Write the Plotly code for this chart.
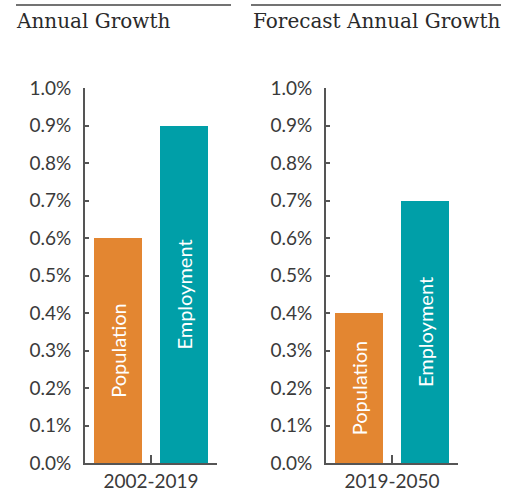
import plotly.graph_objects as go

periods = ["2002-2019", "2019-2050"]
titles = ["Annual Growth", "Forecast Annual Growth"]
series = ["Population", "Employment"]
population = [0.6, 0.4]
employment = [0.9, 0.7]
y_ticks = [0.0, 0.1, 0.2, 0.3, 0.4, 0.5, 0.6, 0.7, 0.8, 0.9, 1.0]
colors = {"Population": "#E38631", "Employment": "#009FA8"}

W, H = 511, 495
fig = go.Figure()

values = {"Population": population, "Employment": employment}
for i, period in enumerate(periods):
    ax = "" if i == 0 else str(i + 1)
    for j, s in enumerate(series):
        fig.add_trace(go.Bar(
            x=[j], y=[values[s][i]], name=s, text=[s],
            textposition="inside", insidetextanchor="middle", textangle=-90,
            textfont=dict(family="Lato", size=20, color="white"),
            marker=dict(color=colors[s], line=dict(width=0)),
            width=0.727, showlegend=False,
            xaxis="x" + ax, yaxis="y" + ax,
            hovertemplate=period + " " + s + ": %{y:.1f}%<extra></extra>",
        ))

def px(x):
    return x / W

def py(y):
    return 1 - y / H

ydom = [py(463), py(88)]
xdoms = [[px(85), px(217)], [px(326), px(458)]]
axis_color = "#555555"
tick_font = dict(family="Lato", size=19, color="#3a3a3a")

layout = dict(
    width=W, height=H, margin=dict(l=0, r=0, t=0, b=0, autoexpand=False),
    paper_bgcolor="white", plot_bgcolor="white", bargap=0,
)
for i, period in enumerate(periods):
    ax = "" if i == 0 else str(i + 1)
    layout["xaxis" + ax] = dict(
        domain=xdoms[i], range=[-0.5, 1.5], anchor="y" + ax, automargin=False,
        tickmode="array", tickvals=[-0.5, 0.5, 1.5], ticktext=["", period, ""],
        ticks="inside", ticklen=8, tickwidth=2, tickcolor=axis_color,
        showline=True, linecolor=axis_color, linewidth=2,
        showgrid=False, zeroline=False, tickfont=tick_font, fixedrange=True,
    )
    layout["yaxis" + ax] = dict(
        domain=ydom, range=[0, 1.0], anchor="x" + ax, automargin=False,
        tickmode="array", tickvals=y_ticks,
        ticktext=[f"{v:.1f}%" for v in y_ticks],
        ticks="inside", ticklen=4, tickwidth=2, tickcolor=axis_color,
        showline=True, linecolor=axis_color, linewidth=2,
        showgrid=False, zeroline=False, tickfont=tick_font,
        ticklabelstandoff=8, fixedrange=True,
    )
fig.update_layout(**layout)

title_x = [14, 251]
line_x = [(16, 231), (251, 501)]
for i, t in enumerate(titles):
    fig.add_annotation(
        text=t, x=px(title_x[i]), y=py(21), xref="paper", yref="paper",
        xanchor="left", yanchor="middle", showarrow=False,
        font=dict(family="DejaVu Serif", size=20, color="#2a2a2a"),
    )
    fig.add_shape(
        type="line", xref="paper", yref="paper",
        x0=px(line_x[i][0]), x1=px(line_x[i][1]), y0=py(5), y1=py(5),
        line=dict(color="#444444", width=1.5),
    )

fig.write_html("out.html", config={"displayModeBar": False},
               post_script="document.body.style.margin='0';")
